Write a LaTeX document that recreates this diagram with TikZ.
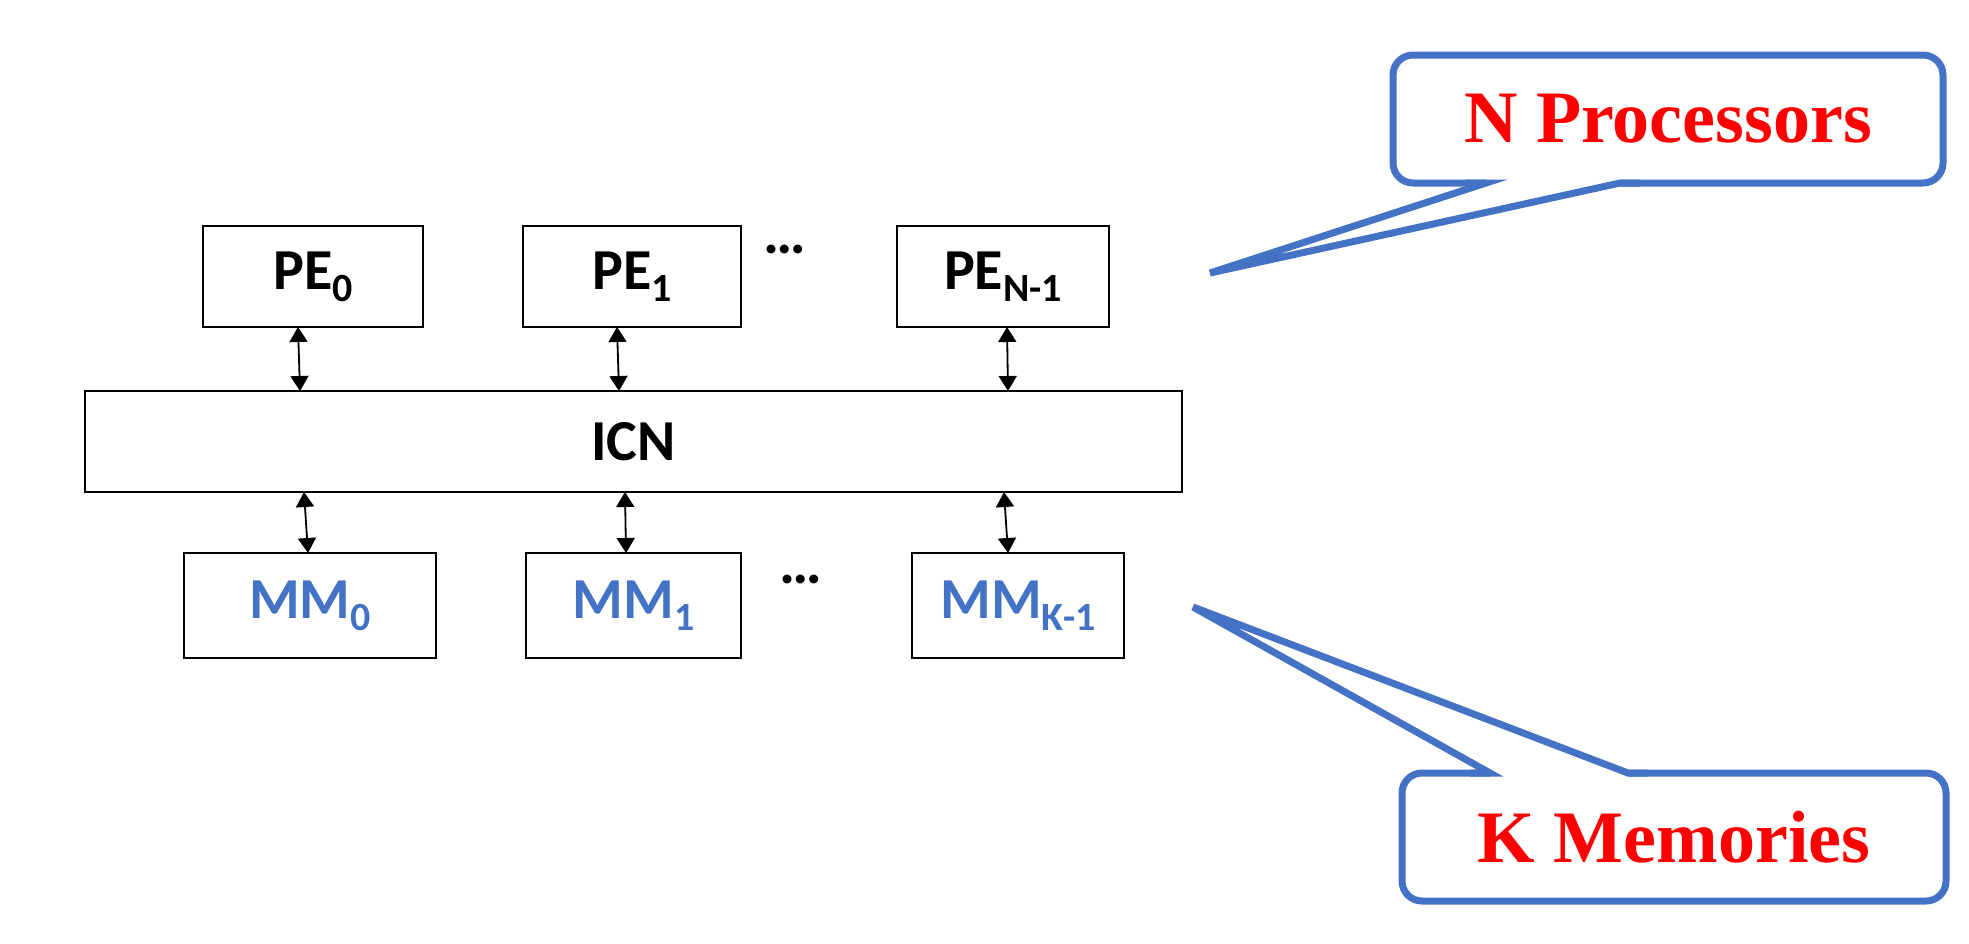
\documentclass[tikz,border=0pt]{standalone}
\usepackage{fontspec}
\setmainfont{Carlito}
\newfontfamily\calloutfont{Liberation Serif}
\usetikzlibrary{arrows.meta,calc}
\definecolor{obl}{HTML}{4472C4}
\definecolor{cred}{HTML}{FF0000}
\newcommand\subtxt[1]{\raisebox{-6pt}{\fontsize{20}{21}\selectfont #1}}
\begin{document}
\begin{tikzpicture}[x=0.5pt,y=-0.5pt,
  blk/.style={draw=black,line width=1pt,inner sep=0pt,outer sep=0pt,
    font=\fontsize{29}{35}\selectfont\bfseries},
  memblk/.style={blk,text=obl},
  biarrow/.style={line width=0.9pt,{Triangle[width=9pt,length=7.5pt]}-{Triangle[width=9pt,length=7.5pt]}},
  callout/.style={draw=obl,line width=3.5pt,line join=miter},
  calltext/.style={text=cred,inner sep=0pt,font=\calloutfont\fontsize{37}{44}\selectfont\bfseries},
  dotsnode/.style={inner sep=0pt,font=\fontsize{30}{35}\selectfont\bfseries}]
\useasboundingbox (0,0) rectangle (1969,943);

% processors
\node[blk,minimum width=110pt,minimum height=50.5pt] (pe0) at (313,276.5) {PE\subtxt{0}};
\node[blk,minimum width=109pt,minimum height=50.5pt] (pe1) at (632,276.5) {PE\subtxt{1}};
\node[blk,minimum width=106pt,minimum height=50.5pt] (pen) at (1003,276.5) {PE\subtxt{N-1}};
\node[dotsnode] (dtop) at (785,249) {…};

% interconnection network
\node[blk,minimum width=548.5pt,minimum height=50.5pt] (icn) at (633.5,441.5) {ICN};

% memories
\node[memblk,minimum width=126pt,minimum height=52.5pt] (mm0) at (310,605.5) {MM\subtxt{0}};
\node[memblk,minimum width=107.5pt,minimum height=52.5pt] (mm1) at (633.5,605.5) {MM\subtxt{1}};
\node[memblk,minimum width=106pt,minimum height=52.5pt] (mmk) at (1018,605.5) {MM\subtxt{K-1}};
\node[dotsnode] (dbot) at (801,579) {…};

% connectors
\draw[biarrow] ($(pe0.south)+(-15,0)$) -- ($(pe0.south |- icn.north)+(-13,0)$);
\draw[biarrow] ($(pe1.south)+(-15,0)$) -- ($(pe1.south |- icn.north)+(-13,0)$);
\draw[biarrow] ($(pen.south)+(4,0)$) -- ($(pen.south |- icn.north)+(5,0)$);
\draw[biarrow] ($(mm0.north |- icn.south)+(-6,0)$) -- ($(mm0.north)+(-2,0)$);
\draw[biarrow] ($(mm1.north |- icn.south)+(-8.5,0)$) -- ($(mm1.north)+(-7.5,0)$);
\draw[biarrow] ($(mmk.north |- icn.south)+(-14,0)$) -- ($(mmk.north)+(-10,0)$);

% callout: N Processors
\coordinate (nptip) at (1210,273);
\draw[callout,rounded corners=10pt] (1620,183) -- (1943,183) -- (1943,55) -- (1393,55) -- (1393,183) -- (1486,183);
\draw[callout] (1466,183) -- (1486,183) -- (nptip) -- (1620,183) -- (1640,183);
\node[calltext] (nptext) at (1668,119) {N Processors};

% callout: K Memories
\coordinate (kmtip) at (1193,607);
\draw[callout,rounded corners=10pt] (1628,773) -- (1946,773) -- (1946,901) -- (1402,901) -- (1402,773) -- (1490,773);
\draw[callout] (1470,773) -- (1490,773) -- (kmtip) -- (1628,773) -- (1648,773);
\node[calltext] (kmtext) at (1674,837) {K Memories};
\end{tikzpicture}
\end{document}
